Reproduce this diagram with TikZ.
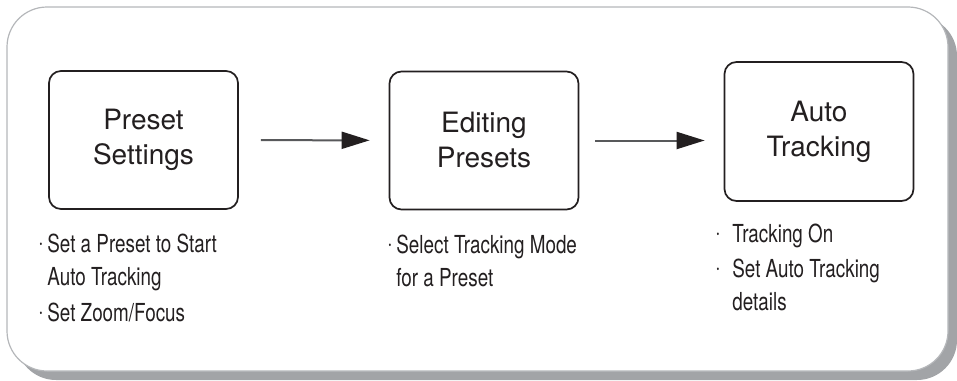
\documentclass[tikz,border=0pt]{standalone}
\usepackage{fontspec}
\setmainfont{TeX Gyre Heros}
\newfontfamily\condfont[FakeStretch=0.76]{TeX Gyre Heros}
\usepackage{xcolor}
\usetikzlibrary{arrows.meta}
\definecolor{shadowgray}{HTML}{A2A4A7}
\definecolor{framegray}{HTML}{B5B7BA}
\definecolor{inkgray}{HTML}{231F20}
\definecolor{linegray}{HTML}{58595B}
\newcommand{\notedot}[1]{\makebox[#1][l]{\raisebox{1.3pt}{·}}}

\begin{document}
\begin{tikzpicture}[x=0.5pt,y=-0.5pt,
    stage node/.style={draw=inkgray, line width=0.85pt, rounded corners=6pt, minimum width=94.5pt, minimum height=69pt, align=center, inner sep=0pt, text=inkgray, font=\fontsize{14}{17.5}\selectfont},
    note node/.style={anchor=north west, align=left, inner sep=0pt, text=inkgray, font=\condfont\fontsize{12.4}{16.5}\selectfont},
    flow/.style={linegray, line width=1pt, -{Triangle[length=14pt,width=8.5pt,inkgray]}, shorten >=9.5pt}]
			\useasboundingbox (0,0) rectangle (957,380);
			% Frame
			\fill[shadowgray, rounded corners=20pt] (16,16) rectangle (957,380);
			\draw[framegray, fill=white, line width=0.6pt, rounded corners=20pt] (7,7) rectangle (948,371);
			
			% Nodes
			\node[stage node] (preset) at (143.5,140) {Preset\\Settings};
			\node[stage node] (editing) at (484,140.5) {Editing\\Presets};
			\node[stage node, minimum height=69.5pt] (auto) at (819,131.5) {Auto\\Tracking};
			
			\node[note node] (presetnotes) at (38,234) {\notedot{4.5pt}Set a Preset to Start\\\hspace*{4.5pt}Auto Tracking\\[1.5pt]\notedot{4.5pt}Set Zoom/Focus};
			\node[note node] (editingnotes) at (387,235) {\notedot{4.5pt}Select Tracking Mode\\\hspace*{4.5pt}for a Preset};
			\node[note node] (autonotes) at (715,224) {\notedot{8.5pt}Tracking On\\[1pt]\notedot{8.5pt}Set Auto Tracking\\\hspace*{8.5pt}details};
			
			\path[flow]
			(preset) edge[shorten <=11pt] (editing)
			(editing.east) edge[shorten <=8pt] (editing.east -| auto.west);
			
		\end{tikzpicture}
\end{document}
